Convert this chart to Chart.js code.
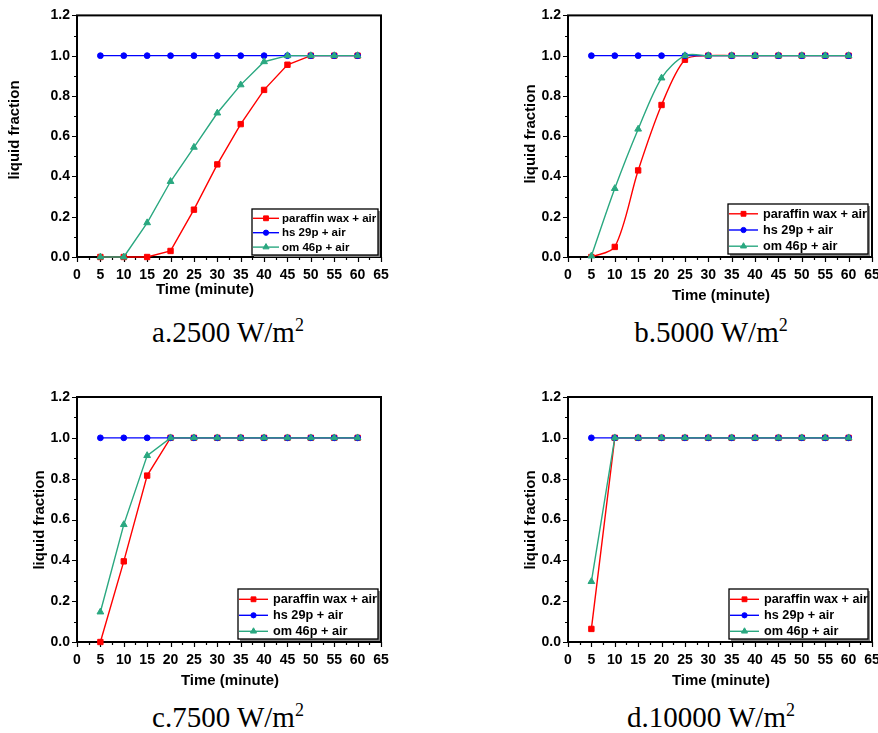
<!DOCTYPE html>
<html>
<head>
<meta charset="utf-8">
<title>liquid fraction</title>
<script src="https://cdn.jsdelivr.net/npm/chart.js@4.4.0/dist/chart.umd.min.js"></script>
<style>
  html, body { margin: 0; padding: 0; background: #fff; width: 878px; height: 733px; overflow: hidden; }
  body { position: relative; }
  .panel { position: absolute; }
  .caption {
    position: absolute;
    font-family: "Liberation Serif", "Times New Roman", serif;
    font-size: 29px;
    line-height: 29px;
    white-space: nowrap;
    transform: translateX(-50%);
    color: #000;
  }
  .caption sup { font-size: 0.62em; line-height: 0; vertical-align: 0.6em; }
</style>
</head>
<body>
<div class="panel" id="panelA"><canvas id="chartA"></canvas></div>
<div class="panel" id="panelB"><canvas id="chartB"></canvas></div>
<div class="panel" id="panelC"><canvas id="chartC"></canvas></div>
<div class="panel" id="panelD"><canvas id="chartD"></canvas></div>
<div class="caption" id="capA"></div>
<div class="caption" id="capB"></div>
<div class="caption" id="capC"></div>
<div class="caption" id="capD"></div>

<script>
// data
const times = [5, 10, 15, 20, 25, 30, 35, 40, 45, 50, 55, 60];
const seriesNames = ['paraffin wax + air', 'hs 29p + air', 'om 46p + air'];
const xTickValues = [0, 5, 10, 15, 20, 25, 30, 35, 40, 45, 50, 55, 60, 65];
const yTickValues = [0, 0.2, 0.4, 0.6, 0.8, 1.0, 1.2];
const xTitle = 'Time (minute)';
const yTitle = 'liquid fraction';
const captionNames = ['a.2500', 'b.5000', 'c.7500', 'd.10000'];
const captionUnit = 'W/m';

// a. 2500 W/m2
const paraffinA = [0, 0, 0, 0.03, 0.235, 0.46, 0.66, 0.83, 0.955, 1, 1, 1];
const hsA       = [1, 1, 1, 1, 1, 1, 1, 1, 1, 1, 1, 1];
const omA       = [0, 0, 0.17, 0.375, 0.545, 0.715, 0.855, 0.97, 1, 1, 1, 1];
// b. 5000 W/m2
const paraffinB = [0, 0.05, 0.43, 0.755, 0.98, 1, 1, 1, 1, 1, 1, 1];
const hsB       = [1, 1, 1, 1, 1, 1, 1, 1, 1, 1, 1, 1];
const omB       = [0.005, 0.34, 0.635, 0.889, 1, 1, 1, 1, 1, 1, 1, 1];
// c. 7500 W/m2
const paraffinC = [0, 0.395, 0.815, 1, 1, 1, 1, 1, 1, 1, 1, 1];
const hsC       = [1, 1, 1, 1, 1, 1, 1, 1, 1, 1, 1, 1];
const omC       = [0.147, 0.575, 0.913, 1, 1, 1, 1, 1, 1, 1, 1, 1];
// d. 10000 W/m2
const paraffinD = [0.064, 1, 1, 1, 1, 1, 1, 1, 1, 1, 1, 1];
const hsD       = [1, 1, 1, 1, 1, 1, 1, 1, 1, 1, 1, 1];
const omD       = [0.296, 1, 1, 1, 1, 1, 1, 1, 1, 1, 1, 1];

const RED = '#ff0000';
const BLUE = '#0000ff';
const TEAL = '#2aa880';
const FONT = '"Liberation Sans", Arial, sans-serif';

// page layout of every panel (absolute px): container, plot box, titles, legend
const panels = {
  A: { box: [0, 0, 439, 305], plot: [77, 13, 381, 257], yTitle: [15, 130], xTitle: [205, 290],
       legend: [252, 209, 126, 46], legFont: 11.5, legRow0: 9.3, legGap: 14.4, legSample: 27, legText: 30,
       tension: 0, cap: [228, 318] },
  B: { box: [440, 0, 450, 305], plot: [568, 13, 872, 257], yTitle: [531, 134], xTitle: [721, 296],
       legend: [728, 204, 140, 50], legFont: 12.7, legRow0: 9.8, legGap: 16.2, legSample: 30, legText: 35,
       tension: 0.3, cap: [711, 318] },
  C: { box: [0, 370, 439, 325], plot: [77, 397, 381, 642], yTitle: [40, 520], xTitle: [230, 681],
       legend: [238, 589, 140, 50], legFont: 12.7, legRow0: 10.3, legGap: 16, legSample: 30, legText: 35,
       tension: 0, cap: [228, 703] },
  D: { box: [440, 370, 450, 325], plot: [568, 397, 872, 642], yTitle: [531, 520], xTitle: [721, 681],
       legend: [729, 589, 139, 50], legFont: 12.7, legRow0: 10.3, legGap: 16, legSample: 30, legText: 35,
       tension: 0, cap: [711, 703] }
};

function generateChart(key, paraffin, hs, om, capIndex) {
  const p = panels[key];
  const [ox, oy, W, H] = p.box;
  const holder = document.getElementById('panel' + key);
  holder.style.left = ox + 'px';
  holder.style.top = oy + 'px';
  holder.style.width = W + 'px';
  holder.style.height = H + 'px';

  const cap = document.getElementById('cap' + key);
  cap.style.left = p.cap[0] + 'px';
  cap.style.top = p.cap[1] + 'px';
  cap.innerHTML = captionNames[capIndex] + ' ' + captionUnit + '<sup>2</sup>';

  const pts = (vals) => times.map((t, i) => ({ x: t, y: vals[i] }));
  const clipLow = { left: 10, top: 10, right: 10, bottom: 6 };

  const info = {
    datasets: [
      { label: seriesNames[0], data: pts(paraffin), borderColor: RED, backgroundColor: RED,
        pointStyle: 'rect', pointRadius: 3.8, order: 2, tension: p.tension,
        clip: p.tension > 0 ? { left: 10, top: 10, right: 10, bottom: 0 } : clipLow },
      { label: seriesNames[1], data: pts(hs), borderColor: BLUE, backgroundColor: BLUE,
        pointStyle: 'circle', pointRadius: 2.9, order: 1, tension: p.tension, clip: clipLow },
      { label: seriesNames[2], data: pts(om), borderColor: TEAL, backgroundColor: TEAL,
        pointStyle: 'triangle', pointRadius: 3.9, order: 0, tension: p.tension, clip: clipLow }
    ]
  };

  // frame + outward tick marks, drawn under the data
  const frame = {
    id: 'frame',
    beforeDatasetsDraw(chart) {
      const { ctx, chartArea: a, scales: { x, y } } = chart;
      ctx.save();
      ctx.strokeStyle = '#000';
      ctx.lineWidth = 1.2;
      ctx.beginPath();
      for (let i = 0; i < xTickValues.length; i++) {
        const px = Math.round(x.getPixelForValue(xTickValues[i])) + 0.5;
        ctx.moveTo(px, a.bottom); ctx.lineTo(px, a.bottom + 5);
        if (i < xTickValues.length - 1) {
          const mx = Math.round(x.getPixelForValue((xTickValues[i] + xTickValues[i + 1]) / 2)) + 0.5;
          ctx.moveTo(mx, a.bottom); ctx.lineTo(mx, a.bottom + 3);
        }
      }
      for (let i = 0; i < yTickValues.length; i++) {
        const py = Math.round(y.getPixelForValue(yTickValues[i])) + 0.5;
        ctx.moveTo(a.left, py); ctx.lineTo(a.left - 5, py);
        if (i < yTickValues.length - 1) {
          const my = Math.round(y.getPixelForValue((yTickValues[i] + yTickValues[i + 1]) / 2)) + 0.5;
          ctx.moveTo(a.left, my); ctx.lineTo(a.left - 3, my);
        }
      }
      ctx.stroke();
      ctx.lineWidth = 2;
      ctx.strokeRect(a.left, a.top, a.right - a.left, a.bottom - a.top);
      ctx.restore();
    }
  };

  // legend inside the plot + axis titles
  const extras = {
    id: 'extras',
    afterDraw(chart) {
      const ctx = chart.ctx;
      ctx.save();
      const [bx, by, bw, bh] = p.legend;
      const lx = bx - ox, ly = by - oy;
      ctx.fillStyle = '#8a8a8a';
      ctx.fillRect(lx + 2, ly + 2, bw, bh);
      ctx.fillStyle = '#fff';
      ctx.fillRect(lx, ly, bw, bh);
      ctx.strokeStyle = '#000';
      ctx.lineWidth = 1.3;
      ctx.strokeRect(lx, ly, bw, bh);
      ctx.font = 'bold ' + p.legFont + 'px ' + FONT;
      ctx.textBaseline = 'middle';
      ctx.textAlign = 'left';
      chart.data.datasets.forEach((ds, i) => {
        const cy = ly + p.legRow0 + i * p.legGap;
        ctx.strokeStyle = ds.borderColor;
        ctx.fillStyle = ds.backgroundColor;
        ctx.lineWidth = 1.4;
        ctx.beginPath();
        ctx.moveTo(lx + 1, cy); ctx.lineTo(lx + p.legSample, cy);
        ctx.stroke();
        ctx.lineWidth = 1;
        Chart.helpers.drawPoint(ctx, { pointStyle: ds.pointStyle, radius: ds.pointRadius * 0.9, borderWidth: 1, rotation: 0 },
          lx + 1 + (p.legSample - 1) / 2, cy);
        ctx.fillStyle = '#000';
        ctx.fillText(ds.label, lx + p.legText, cy + 0.5);
      });

      ctx.fillStyle = '#000';
      ctx.font = 'bold 15px ' + FONT;
      ctx.textAlign = 'center';
      ctx.textBaseline = 'middle';
      ctx.fillText(xTitle, p.xTitle[0] - ox, p.xTitle[1] - oy);
      ctx.translate(p.yTitle[0] - ox, p.yTitle[1] - oy);
      ctx.rotate(-Math.PI / 2);
      ctx.fillText(yTitle, 0, 0);
      ctx.restore();
    }
  };

  const tickFont = { family: FONT, size: 14, weight: 'bold' };
  const options = {
    responsive: true,
    maintainAspectRatio: false,
    animation: false,
    layout: { padding: { left: 0, top: p.plot[1] - oy, right: W - (p.plot[2] - ox), bottom: 0 } },
    elements: {
      line: { borderWidth: 1.4 },
      point: { borderWidth: 1 }
    },
    scales: {
      x: {
        type: 'linear', min: 0, max: 65,
        grid: { display: false, drawTicks: false },
        border: { display: false },
        afterBuildTicks: (scale) => { scale.ticks = xTickValues.map((v) => ({ value: v })); },
        afterFit: (scale) => { scale.height = H - (p.plot[3] - oy); },
        ticks: { font: tickFont, color: '#000', padding: 10, autoSkip: false, maxRotation: 0,
                 callback: (v) => String(v) }
      },
      y: {
        type: 'linear', min: 0, max: 1.2,
        grid: { display: false, drawTicks: false },
        border: { display: false },
        afterBuildTicks: (scale) => { scale.ticks = yTickValues.map((v) => ({ value: v })); },
        afterFit: (scale) => { scale.width = p.plot[0] - ox; },
        ticks: { font: tickFont, color: '#000', padding: 7, callback: (v) => Number(v).toFixed(1) }
      }
    },
    plugins: {
      legend: { display: false },
      tooltip: { enabled: false }
    }
  };

  new Chart(document.getElementById('chart' + key), {
    type: 'line',
    data: info,
    options,
    plugins: [frame, extras]
  });
}

generateChart('A', paraffinA, hsA, omA, 0);
generateChart('B', paraffinB, hsB, omB, 1);
generateChart('C', paraffinC, hsC, omC, 2);
generateChart('D', paraffinD, hsD, omD, 3);
</script>
</body>
</html>
